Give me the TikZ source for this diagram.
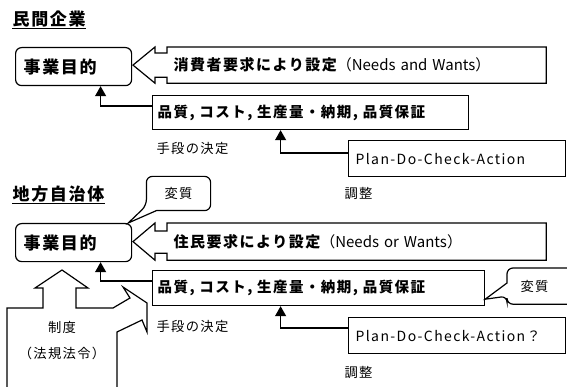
\documentclass[tikz,border=0pt]{standalone}
\usepackage{fontspec}
\setmainfont[LetterSpace=10]{Noto Sans CJK JP}
\newfontfamily\latinfont{Noto Sans CJK JP}
\usetikzlibrary{arrows.meta,calc}

\begin{document}
\begin{tikzpicture}[x=1pt, y=-1pt, line width=1.2pt,
    titletext/.style={anchor=base west, inner sep=0pt, font=\fontsize{17}{19}\selectfont\bfseries},
    goalbox/.style={draw, rounded corners=6pt, anchor=north west, minimum height=38pt,
        text width=100pt, inner xsep=8pt, align=left, font=\fontsize{17}{19}\selectfont\bfseries},
    needbox/.style={anchor=north west, minimum height=35pt, text width=366pt, inner xsep=6pt,
        align=left, font=\fontsize{15}{17}\selectfont\bfseries},
    qbox/.style={draw, anchor=north west, minimum height=34pt, inner xsep=5pt,
        align=left, font=\fontsize{14.5}{16}\selectfont\bfseries},
    pdcabox/.style={draw, anchor=north west, minimum height=36pt, text width=203pt, inner xsep=7pt,
        align=left, font=\fontsize{14}{16}\selectfont},
    smalltext/.style={inner sep=0pt, font=\fontsize{13.3}{15}\selectfont},
    notebox/.style={inner sep=0pt, font=\fontsize{13.3}{15}\selectfont},
    uparrow/.style={-{Triangle[length=10pt,width=11pt]}}]
    \useasboundingbox (0,0) rectangle (567,387);

    % 民間企業
    \node[titletext] (title1) at (12,26) {民間企業};
    \draw ([yshift=-2.5pt]title1.base west) -- ([yshift=-2.5pt]title1.base east);

    \node[goalbox] (goal1) at (15,47) {事業目的};
    \node[needbox] (need1) at (167,47) {消費者要求により設定{\latinfont\mdseries（Needs and Wants）}};
    \draw ($(need1.north west)+(0,6)$) -- ++(-12,0) -- ++(0,-6) -- ($(need1.west)+(-34,0)$)
        -- ($(need1.south west)+(-12,0)$) -- ++(0,-6) -- ($(need1.south west)+(0,-6)$)
        -- (need1.south west) -- (need1.south east) -- (need1.north east) -- (need1.north west) -- cycle;
    \node[qbox, text width=306pt] (q1) at (152,95) {品質, コスト, 生産量・納期, 品質保証};
    \node[pdcabox] (pdca1) at (348,140) {Plan-Do-Check-Action};
    \node[smalltext, anchor=west] (means1) at (156,148) {手段の決定};
    \node[smalltext, anchor=west] (adjust1) at (344,193) {調整};
    \draw[uparrow] ($(q1.north west)+(0,11)$) -| ([xshift=27pt]goal1.south);
    \draw[uparrow] ($(pdca1.north west)+(0,13)$) -| ([xshift=-30pt]q1.south);

    % 地方自治体
    \node[titletext] (title2) at (12,201) {地方自治体};
    \draw ([yshift=-2.5pt]title2.base west) -- ([yshift=-2.5pt]title2.base east);

    \node[goalbox] (goal2) at (15,223) {事業目的};
    \node[needbox, minimum height=36pt] (need2) at (167,223) {住民要求により設定{\latinfont\mdseries（Needs or Wants）}};
    \draw ($(need2.north west)+(0,8)$) -- ++(-12,0) -- ++(0,-8) -- ($(need2.west)+(-34,0)$)
        -- ($(need2.south west)+(-12,0)$) -- ++(0,-7) -- ($(need2.south west)+(0,-7)$)
        -- (need2.south west) -- (need2.south east) -- (need2.north east) -- (need2.north west) -- cycle;
    \node[qbox, text width=322pt, minimum height=35pt] (q2) at (152,270) {品質, コスト, 生産量・納期, 品質保証};
    \node[pdcabox] (pdca2) at (348,317) {Plan-Do-Check-Action？};
    \node[smalltext, anchor=west] (means2) at (156,326) {手段の決定};
    \node[smalltext, anchor=west] (adjust2) at (344,372) {調整};
    \draw[uparrow] ($(q2.north west)+(0,11)$) -| ([xshift=27pt]goal2.south);
    \draw[uparrow] ($(pdca2.north west)+(0,11)$) -| ([xshift=-38pt]q2.south);

    % 変質
    \node[notebox, minimum width=63pt, minimum height=33pt] (change1) at (178.5,193.5) {変質};
    \draw[rounded corners=6pt] ($(change1.south west)+(10,0)$) -- (change1.south east)
        -- (change1.north east) -- (change1.north west) -- ($(change1.south west)+(0,-5)$)
        [sharp corners] -- ([xshift=-4pt]goal2.north east) -- cycle;
    \node[notebox, anchor=north west, minimum height=35pt, text width=42pt, inner xsep=13pt,
        align=left] (change2) at (507,268) {変質};
    \draw[rounded corners=6pt] ($(change2.north west)+(0,15)$) -- (change2.north west)
        -- (change2.north east) -- (change2.south east) -- (change2.south west)
        -- ($(change2.south west)+(0,-8)$)
        [sharp corners] -- ([yshift=7pt]q2.south east) -- cycle;

    % 制度
    \draw (7,390) -- (7,308) -- (43,308) -- (43,288) -- (35,288) -- (62,270) -- (88,288)
        -- (76,288) -- (76,308) -- (113,308) -- (130,298) -- (123,287) -- (147,303)
        -- (147,332) -- (142,320) -- (117,332) -- (117,390);
    \node[smalltext] (system) at (62,327) {制度};
    \node[smalltext] (law) at (62,353) {（法規法令）};
\end{tikzpicture}
\end{document}
